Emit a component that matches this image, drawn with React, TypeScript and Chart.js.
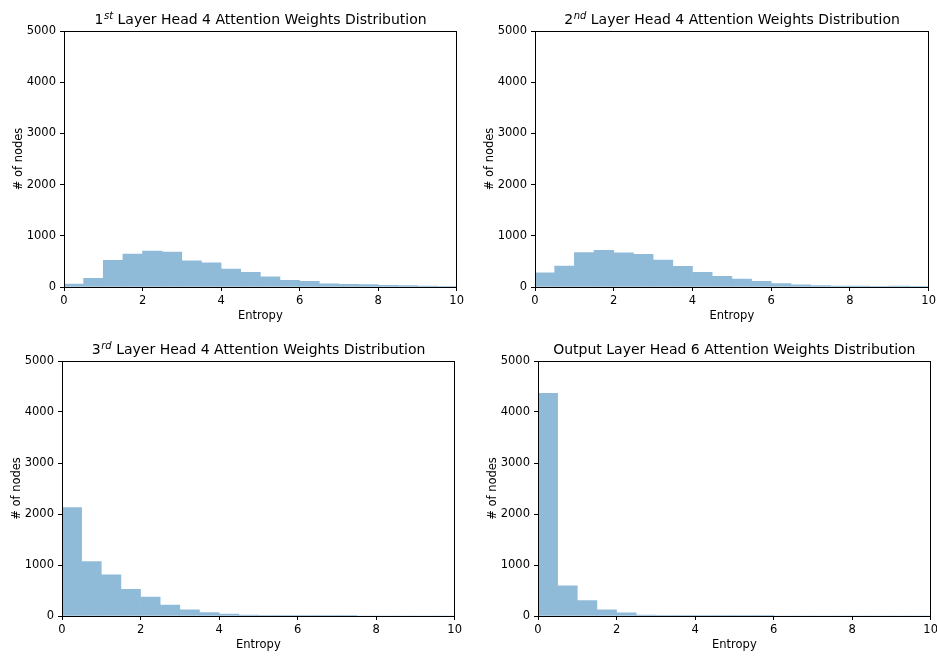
import React, { useEffect, useRef } from 'react';
import { Chart, registerables } from 'chart.js';

Chart.register(...registerables);

// Histogram bins (width 0.5 over 0..10) — bin centers
const binCenters = [
  0.25, 0.75, 1.25, 1.75, 2.25, 2.75, 3.25, 3.75, 4.25, 4.75,
  5.25, 5.75, 6.25, 6.75, 7.25, 7.75, 8.25, 8.75, 9.25, 9.75,
];

const layer1Counts = [55, 170, 520, 645, 700, 680, 510, 470, 350, 285, 200, 130, 110, 60, 52, 45, 33, 26, 20, 13];
const layer2Counts = [275, 410, 670, 715, 665, 640, 525, 405, 285, 210, 155, 110, 65, 40, 26, 20, 20, 13, 20, 5];
const layer3Counts = [2125, 1065, 805, 525, 370, 215, 120, 65, 40, 20, 8, 4, 2, 1, 1, 0, 0, 0, 0, 0];
const outputCounts = [4365, 590, 300, 120, 60, 20, 8, 4, 2, 2, 1, 1, 0, 0, 0, 0, 0, 0, 0, 0];

const xTickValues = [0, 2, 4, 6, 8, 10];
const yTickValues = [0, 1000, 2000, 3000, 4000, 5000];

const xAxisTitle = 'Entropy';
const yAxisTitle = '# of nodes';

const FONT = "'DejaVu Sans', Verdana, sans-serif";
const BAR_COLOR = '#8fbbd9';

const Y_W = 57; // y scale box width
const X_H = 40; // x scale box height
const PAD_TOP = 30;
const PAD_RIGHT = 10;

type Panel = {
  base: string;
  sup: string;
  rest: string;
  counts: number[];
  L: number;
  T: number;
  R: number;
  B: number;
};

const panels: Panel[] = [
  { base: '1', sup: 'st', rest: ' Layer Head 4 Attention Weights Distribution', counts: layer1Counts, L: 64, T: 31, R: 457, B: 287 },
  { base: '2', sup: 'nd', rest: ' Layer Head 4 Attention Weights Distribution', counts: layer2Counts, L: 535, T: 31, R: 929, B: 287 },
  { base: '3', sup: 'rd', rest: ' Layer Head 4 Attention Weights Distribution', counts: layer3Counts, L: 62, T: 361, R: 455, B: 616 },
  { base: 'Output Layer Head 6 Attention Weights Distribution', sup: '', rest: '', counts: outputCounts, L: 538, T: 361, R: 931, B: 616 },
];

const align = (v: number) => Math.round(v - 0.5) + 0.5;

const framePlugin = {
  id: 'frameAndTitle',
  afterDatasetsDraw(chart: any, _args: any, opts: any) {
    const { ctx, chartArea } = chart;
    const l = align(chartArea.left);
    const r = align(chartArea.right);
    const t = align(chartArea.top);
    const b = align(chartArea.bottom);
    ctx.save();
    ctx.strokeStyle = '#000';
    ctx.lineWidth = 1;
    ctx.strokeRect(l, t, r - l, b - t);

    const mainFont = `14px ${FONT}`;
    const supFont = `italic 10px ${FONT}`;
    ctx.font = mainFont;
    const wb = ctx.measureText(opts.base).width;
    const wr = opts.rest ? ctx.measureText(opts.rest).width : 0;
    ctx.font = supFont;
    const ws = opts.sup ? ctx.measureText(opts.sup).width : 0;
    let x = (chartArea.left + chartArea.right) / 2 - (wb + ws + wr) / 2;
    const y = chartArea.top - 7;
    ctx.fillStyle = '#000';
    ctx.textAlign = 'left';
    ctx.textBaseline = 'alphabetic';
    ctx.font = mainFont;
    ctx.fillText(opts.base, x, y);
    x += wb;
    if (opts.sup) {
      ctx.font = supFont;
      ctx.fillText(opts.sup, x + 0.5, y - 5.5);
      x += ws + 0.5;
    }
    if (opts.rest) {
      ctx.font = mainFont;
      ctx.fillText(opts.rest, x, y);
    }
    ctx.restore();
  },
};

function HistPanel({ panel }: { panel: Panel }) {
  const ref = useRef<HTMLCanvasElement | null>(null);
  const width = Y_W + (panel.R - panel.L) + PAD_RIGHT;
  const height = PAD_TOP + (panel.B - panel.T) + X_H;

  useEffect(() => {
    if (!ref.current) return;
    const tickFont = { family: FONT, size: 11.5 };
    const chart = new Chart(ref.current, {
      type: 'bar',
      data: {
        datasets: [
          {
            data: panel.counts.map((c, i) => ({ x: binCenters[i], y: c })),
            backgroundColor: BAR_COLOR,
            borderWidth: 0,
            barPercentage: 1,
            categoryPercentage: 1,
          },
        ],
      },
      options: {
        responsive: false,
        animation: false,
        events: [],
        layout: { padding: { top: PAD_TOP, right: PAD_RIGHT, left: 0, bottom: 0 } },
        plugins: {
          legend: { display: false },
          tooltip: { enabled: false },
          title: { display: false },
          frameAndTitle: { base: panel.base, sup: panel.sup, rest: panel.rest },
        } as any,
        scales: {
          x: {
            type: 'linear',
            min: 0,
            max: 10,
            offset: false,
            afterFit: (s: any) => { s.height = X_H; },
            afterBuildTicks: (s: any) => { s.ticks = xTickValues.map((v) => ({ value: v })); },
            grid: { display: true, drawOnChartArea: false, drawTicks: true, tickLength: 4, color: '#000', offset: false },
            border: { display: true, color: '#000' },
            ticks: { font: tickFont, color: '#000', padding: 3, maxRotation: 0, callback: (v: any) => String(v) },
            title: { display: true, text: xAxisTitle, font: tickFont, color: '#000', padding: { top: 4, bottom: 4 } },
          },
          y: {
            type: 'linear',
            min: 0,
            max: 5000,
            afterFit: (s: any) => { s.width = Y_W; },
            afterBuildTicks: (s: any) => { s.ticks = yTickValues.map((v) => ({ value: v })); },
            grid: { display: true, drawOnChartArea: false, drawTicks: true, tickLength: 4, color: '#000' },
            border: { display: true, color: '#000' },
            ticks: { font: tickFont, color: '#000', padding: 4, callback: (v: any) => String(v) },
            title: { display: true, text: yAxisTitle, font: tickFont, color: '#000', padding: { top: 5, bottom: 4 } },
          },
        },
      } as any,
      plugins: [framePlugin],
    });
    return () => chart.destroy();
  }, [panel]);

  return (
    <canvas
      ref={ref}
      width={width}
      height={height}
      style={{
        position: 'absolute',
        left: panel.L - Y_W,
        top: panel.T - PAD_TOP,
        width,
        height,
      }}
    />
  );
}

export default function App() {
  return (
    <div
      style={{
        position: 'absolute',
        left: 0,
        top: 0,
        width: 937,
        height: 656,
        overflow: 'hidden',
        background: '#fff',
      }}
    >
      {panels.map((p, i) => (
        <HistPanel key={i} panel={p} />
      ))}
    </div>
  );
}
